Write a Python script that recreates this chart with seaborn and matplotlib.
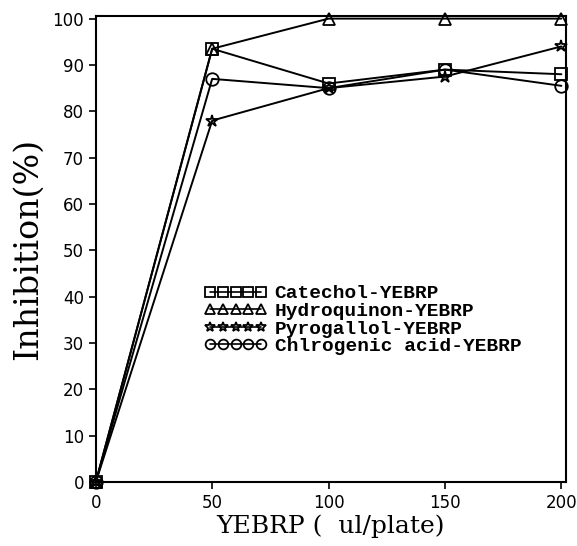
import pandas as pd
import matplotlib
matplotlib.use("Agg")
import matplotlib.pyplot as plt
import seaborn as sns

dose = [0, 50, 100, 150, 200]
catechol = [0, 93.5, 86, 89, 88]
hydroquinon = [0, 93.5, 100, 100, 100]
pyrogallol = [0, 78, 85, 87.5, 94]
chlorogenic = [0, 87, 85, 89, 85.5]

names = ["Catechol-YEBRP", "Hydroquinon-YEBRP", "Pyrogallol-YEBRP", "Chlrogenic acid-YEBRP"]
series = [catechol, hydroquinon, pyrogallol, chlorogenic]

rows = []
for name, vals in zip(names, series):
    for d, v in zip(dose, vals):
        rows.append({"dose": d, "inhibition": v, "sample": name})
df = pd.DataFrame(rows)

sns.set_style("ticks")
plt.rcParams["font.family"] = ["DejaVu Sans"]
plt.rcParams["text.color"] = "black"
plt.rcParams["axes.labelcolor"] = "black"

fig = plt.figure(figsize=(5.77, 5.46), dpi=100)
ax = fig.add_axes([0.166, 0.117, 0.815, 0.854])

markers = dict(zip(names, ["s", "^", "*", "o"]))
sns.lineplot(data=df, x="dose", y="inhibition", hue="sample", style="sample",
             markers=markers, dashes=False, palette=["black"] * 4,
             markersize=9, linewidth=1.4, ax=ax, legend=True)

for ln in ax.lines:
    ln.set_clip_on(False)
    ln.set_markerfacecolor("none")
    ln.set_markeredgecolor("black")
    ln.set_markeredgewidth(1.3)

ax.set_xlim(0, 202)
ax.set_ylim(0, 100.6)
ax.set_xticks([0, 50, 100, 150, 200])
ax.set_yticks(range(0, 101, 10))
ax.tick_params(direction="out", length=5, width=1.2, labelsize=12, colors="black")
for s in ax.spines.values():
    s.set_linewidth(1.5)
    s.set_color("black")

ax.set_xlabel("YEBRP (  ul/plate)", family="DejaVu Serif", fontsize=18, labelpad=2, color="black")
ax.set_ylabel("Inhibition(%)", family="DejaVu Serif", fontsize=24, labelpad=6, color="black")

handles, labels = ax.get_legend_handles_labels()
for h in handles:
    h.set_markerfacecolor("none")
    h.set_markeredgecolor("black")
    h.set_markeredgewidth(1.3)
    h.set_markersize(7)
    h.set_linewidth(1.2)
ax.legend(handles, labels, numpoints=5, handlelength=3.2, frameon=False,
          loc="upper left", bbox_to_anchor=(0.215, 0.44), labelspacing=0.0,
          handletextpad=0.4, borderaxespad=0,
          prop={"family": "Liberation Mono", "weight": "bold", "size": 14})

fig.savefig("out.png", dpi=100)
